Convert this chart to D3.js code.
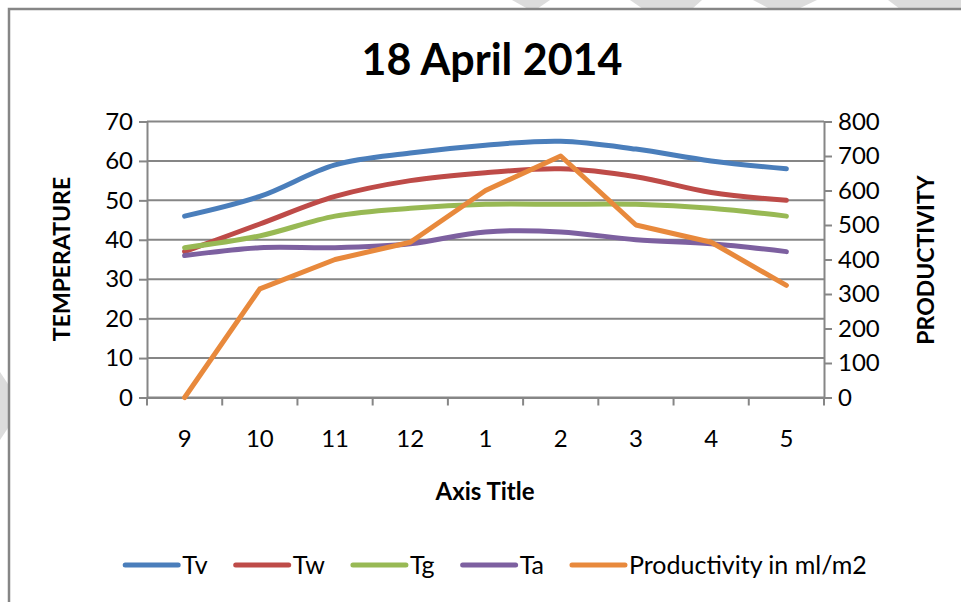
<!DOCTYPE html>
<html>
<head>
<meta charset="utf-8">
<script src="https://cdn.jsdelivr.net/npm/d3@7"></script>
<style>
  body { margin: 0; background: #fff; }
  text { font-family: Lato, "Open Sans", sans-serif; fill: #000; }
</style>
</head>
<body>
<script>
// Chart data
var hours = ["9", "10", "11", "12", "1", "2", "3", "4", "5"];
var tv = [46, 51, 59, 62, 64, 65, 63, 60, 58];
var tw = [37, 44, 51, 55, 57, 58, 56, 52, 50];
var tg = [38, 41, 46, 48, 49, 49, 49, 48, 46];
var ta = [36, 38, 38, 39, 42, 42, 40, 39, 37];
var productivity = [0, 315, 400, 450, 600, 700, 500, 450, 325];
var tempTicks = [0, 10, 20, 30, 40, 50, 60, 70];
var prodTicks = [0, 100, 200, 300, 400, 500, 600, 700, 800];

var series = [
  {name: "Tv", values: tv, color: "#4A7EBB", axis: "left"},
  {name: "Tw", values: tw, color: "#BE4B48", axis: "left"},
  {name: "Tg", values: tg, color: "#98B954", axis: "left"},
  {name: "Ta", values: ta, color: "#7D60A0", axis: "left"},
  {name: "Productivity in ml/m2", values: productivity, color: "#E8893C", axis: "right"}
];

var W = 961, H = 602;
var plot = {left: 147, right: 824, top: 121.5, bottom: 397.5};
var grey = "#868686";

var svg = d3.select("body")
  .append("svg")
    .attr("width", W)
    .attr("height", H);

// light diagonal stripes of the page behind the chart
var stripes = [
  [[512, 0], [550, 0], [537, 9], [528, 9]],
  [[630, 0], [702, 0], [692, 9], [643, 9]],
  [[753, 0], [817, 0], [798, 9], [770, 9]],
  [[888, 0], [961, 0], [961, 9], [900, 9]],
  [[0, 372], [8, 384], [8, 428], [0, 440]]
];
svg.selectAll(".stripe")
  .data(stripes)
  .enter()
  .append("polygon")
    .attr("points", function(d) { return d.join(" "); })
    .attr("fill", "#dcdcdc");

// chart area border (runs off the right and bottom)
svg.append("rect")
  .attr("x", 9).attr("y", 9)
  .attr("width", W + 20).attr("height", H + 20)
  .attr("fill", "#fff")
  .attr("stroke", grey)
  .attr("stroke-width", 2.5);

// Scales
var x = d3.scaleBand()
  .domain(hours)
  .range([plot.left, plot.right]);

var yLeft = d3.scaleLinear()
  .domain([0, 70])
  .range([plot.bottom, plot.top]);

var yRight = d3.scaleLinear()
  .domain([0, 800])
  .range([plot.bottom, plot.top]);

// Gridlines
svg.append("g")
  .selectAll("line")
  .data(tempTicks)
  .enter()
  .append("line")
    .attr("x1", plot.left)
    .attr("x2", plot.right)
    .attr("y1", function(d) { return yLeft(d); })
    .attr("y2", function(d) { return yLeft(d); })
    .attr("stroke", grey)
    .attr("stroke-width", 2);

// Axes
function styleAxis(g) {
  g.selectAll(".domain").attr("stroke", grey).attr("stroke-width", 2);
  g.selectAll(".tick line").attr("stroke", grey).attr("stroke-width", 2);
  g.selectAll(".tick text")
    .style("font-family", "Lato, sans-serif")
    .style("font-size", "24px")
    .attr("fill", "#000");
}

svg.append("g")
  .attr("transform", "translate(" + plot.left + ",0)")
  .call(d3.axisLeft(yLeft).tickValues(tempTicks).tickSize(8).tickSizeOuter(0).tickPadding(6))
  .call(styleAxis);

svg.append("g")
  .attr("transform", "translate(" + plot.right + ",0)")
  .call(d3.axisRight(yRight).tickValues(prodTicks).tickSize(8).tickSizeOuter(0).tickPadding(6))
  .call(styleAxis);

// x axis: tick marks sit between categories
var xAxis = svg.append("g")
  .attr("transform", "translate(0," + plot.bottom + ")")
  .call(d3.axisBottom(x).tickSize(0).tickPadding(32).tickSizeOuter(0))
  .call(styleAxis);

xAxis.selectAll(".sep")
  .data(hours.concat(["end"]))
  .enter()
  .append("line")
    .attr("x1", function(d, i) { return plot.left + i * x.step(); })
    .attr("x2", function(d, i) { return plot.left + i * x.step(); })
    .attr("y1", 0).attr("y2", 8)
    .attr("stroke", grey).attr("stroke-width", 2);

// Lines
var tempLine = d3.line()
  .x(function(d, i) { return x(hours[i]) + x.bandwidth() / 2; })
  .y(function(d) { return yLeft(d); })
  .curve(d3.curveCatmullRom.alpha(0.5));

var prodLine = d3.line()
  .x(function(d, i) { return x(hours[i]) + x.bandwidth() / 2; })
  .y(function(d) { return yRight(d); });

svg.selectAll(".series")
  .data(series)
  .enter()
  .append("path")
    .attr("class", "series")
    .attr("fill", "none")
    .attr("stroke", function(d) { return d.color; })
    .attr("stroke-width", 5)
    .attr("stroke-linecap", "round")
    .attr("stroke-linejoin", "round")
    .attr("d", function(d) { return d.axis == "left" ? tempLine(d.values) : prodLine(d.values); });

// Titles
svg.append("text")
  .attr("x", 492).attr("y", 75)
  .attr("text-anchor", "middle")
  .style("font-size", "43px")
  .style("font-weight", "bold")
  .text("18 April 2014");

svg.append("text")
  .attr("transform", "translate(70,259) rotate(-90)")
  .attr("text-anchor", "middle")
  .style("font-size", "23px")
  .style("font-weight", "bold")
  .text("TEMPERATURE");

svg.append("text")
  .attr("transform", "translate(934,260) rotate(-90)")
  .attr("text-anchor", "middle")
  .style("font-size", "23px")
  .style("font-weight", "bold")
  .text("PRODUCTIVITY");

svg.append("text")
  .attr("x", 485).attr("y", 500)
  .attr("text-anchor", "middle")
  .style("font-size", "24px")
  .style("font-weight", "bold")
  .text("Axis Title");

// Legend
var legend = svg.append("g");
var lx = 0;
series.forEach(function(s) {
  var item = legend.append("g").attr("transform", "translate(" + lx + ",0)");
  item.append("line")
    .attr("x1", 0).attr("x2", 53)
    .attr("y1", 0).attr("y2", 0)
    .attr("stroke", s.color)
    .attr("stroke-width", 5)
    .attr("stroke-linecap", "round");
  var t = item.append("text")
    .attr("x", 57).attr("y", 8.5)
    .style("font-size", "25px")
    .text(s.name);
  lx += 57 + t.node().getComputedTextLength() + 28;
});
var legendWidth = lx - 28;
legend.attr("transform", "translate(" + (496 - legendWidth / 2) + ",565)");
</script>
</body>
</html>
